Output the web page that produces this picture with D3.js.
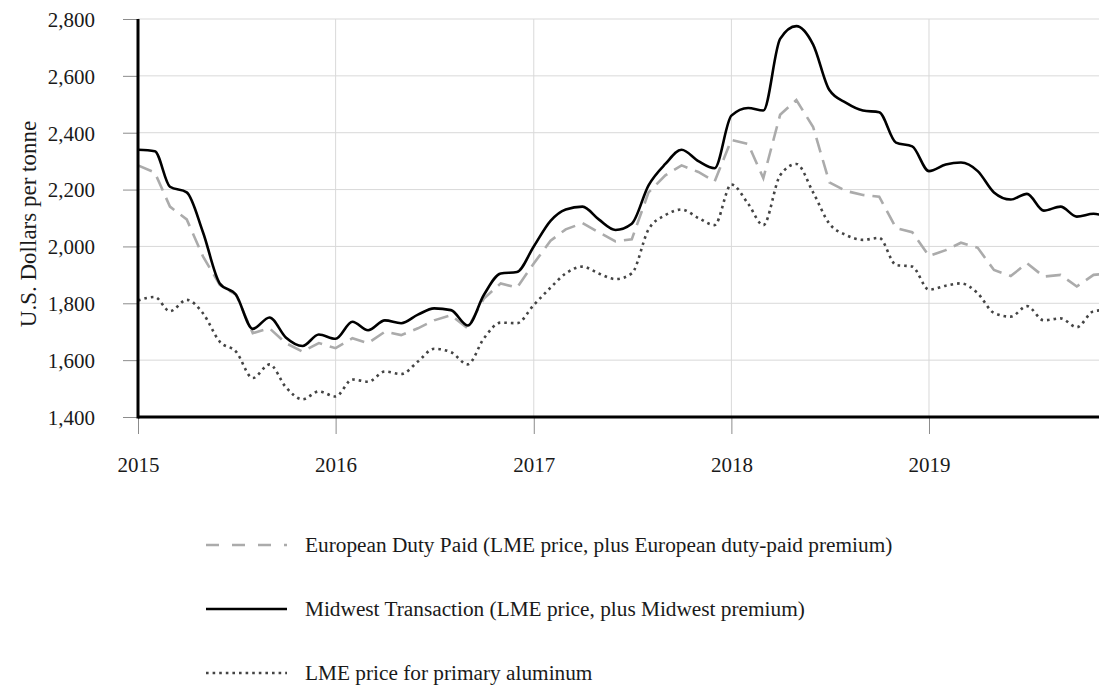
<!DOCTYPE html>
<html>
<head>
<meta charset="utf-8">
<script src="https://cdn.jsdelivr.net/npm/d3@7"></script>
<style>
  body { margin: 0; background: #fff; }
  svg { display: block; font-family: "Liberation Serif", "Times New Roman", serif; }
  .grid line { stroke: #d9d9d9; stroke-width: 1; }
  .tick line { stroke: #8c8c8c; }
  .tick text { fill: #1a1a1a; font-size: 21px; }
</style>
</head>
<body>
<svg id="chart" width="1099" height="685"></svg>
<script>
// monthly series, Jan 2015 onwards (US$ per tonne)
const startMonth = new Date(2015, 0, 1);

const europeanDutyPaid = [
  2285, 2260, 2140, 2095, 1965, 1865, 1830, 1695, 1712, 1660, 1630, 1660,
  1642, 1677, 1660, 1700, 1688, 1712, 1740, 1758, 1712, 1817, 1870, 1855,
  1940, 2020, 2060, 2082, 2050, 2018, 2025, 2190, 2250, 2285, 2262, 2228,
  2375, 2360, 2240, 2463, 2515, 2420, 2225, 2195, 2181, 2175, 2065, 2050,
  1966, 1987, 2013, 1995, 1917, 1896, 1941, 1894, 1900, 1859, 1900, 1905
];

const midwestTransaction = [
  2340, 2335, 2210, 2190, 2050, 1870, 1830, 1710, 1750, 1680, 1650, 1690,
  1675, 1735, 1705, 1740, 1730, 1760, 1782, 1776, 1722, 1830, 1905, 1910,
  2000, 2090, 2130, 2140, 2095, 2058, 2080, 2215, 2290, 2340, 2300, 2275,
  2460, 2487, 2478, 2730, 2775, 2710, 2550, 2505, 2478, 2472, 2365, 2352,
  2265, 2288, 2295, 2265, 2190, 2165, 2185, 2126, 2140, 2105, 2115, 2100
];

const lmePrice = [
  1810, 1822, 1772, 1812, 1765, 1665, 1630, 1537, 1585, 1505, 1462, 1490,
  1472, 1532, 1524, 1560, 1551, 1595, 1640, 1628, 1585, 1677, 1732, 1730,
  1794, 1855, 1905, 1929, 1905, 1885, 1905, 2060, 2110, 2130, 2100, 2075,
  2218, 2150, 2075, 2250, 2290, 2190, 2080, 2040, 2023, 2030, 1935, 1929,
  1848, 1862, 1870, 1835, 1766, 1753, 1790, 1740, 1747, 1716, 1772, 1778
];

const yTicks = [1400, 1600, 1800, 2000, 2200, 2400, 2600, 2800];
const xTickYears = [2015, 2016, 2017, 2018, 2019];

const seriesNames = [
  "European Duty Paid (LME price, plus European duty-paid premium)",
  "Midwest Transaction (LME price, plus Midwest premium)",
  "LME price for primary aluminum"
];

const width = 1099, height = 685;
const margin = { top: 19, right: 0, bottom: 268, left: 138 };
const plotBottom = height - margin.bottom;

const svg = d3.select("#chart");

const x = d3.scaleTime()
  .domain([startMonth, new Date(2019, 10, 11)])
  .range([margin.left, width - margin.right]);

const y = d3.scaleLinear()
  .domain([1400, 2800])
  .range([plotBottom, margin.top]);

const months = europeanDutyPaid.map((_, i) => d3.timeMonth.offset(startMonth, i));

// grid
svg.append("g").attr("class", "grid")
  .selectAll("line").data(yTicks.slice(1)).join("line")
  .attr("x1", margin.left).attr("x2", width)
  .attr("y1", d => y(d)).attr("y2", d => y(d));

svg.append("g").attr("class", "grid")
  .selectAll("line").data(xTickYears.slice(1)).join("line")
  .attr("x1", d => x(new Date(d, 0, 1))).attr("x2", d => x(new Date(d, 0, 1)))
  .attr("y1", margin.top).attr("y2", plotBottom);

// axes
const yAxis = svg.append("g")
  .attr("transform", `translate(${margin.left},0)`)
  .call(d3.axisLeft(y).tickValues(yTicks).tickSize(15).tickPadding(28)
    .tickFormat(d3.format(",")))
  .call(g => g.select(".domain").remove())
  .attr("font-family", null).attr("font-size", null);
yAxis.selectAll(".tick text").attr("dy", "0.35em");

const xAxis = svg.append("g")
  .attr("transform", `translate(0,${plotBottom})`)
  .call(d3.axisBottom(x)
    .tickValues(xTickYears.map(yr => new Date(yr, 0, 1)))
    .tickSize(17).tickPadding(23)
    .tickFormat(d3.timeFormat("%Y")))
  .call(g => g.select(".domain").remove())
  .attr("font-family", null).attr("font-size", null);

// y title
svg.append("text")
  .attr("transform", `translate(28,${(margin.top + plotBottom) / 2 + 6}) rotate(-90)`)
  .attr("text-anchor", "middle")
  .attr("dominant-baseline", "central")
  .attr("font-size", 23)
  .attr("fill", "#1a1a1a")
  .text("U.S. Dollars per tonne");

// lines
svg.append("clipPath").attr("id", "plot-clip")
  .append("rect")
  .attr("x", margin.left).attr("y", 0)
  .attr("width", width - margin.left).attr("height", plotBottom);

const styles = [
  { data: europeanDutyPaid, color: "#ababab", dash: "15,8", width: 2.6, curve: d3.curveLinear, legendDash: "13,13" },
  { data: midwestTransaction, color: "#000000", dash: null, width: 2.6, curve: d3.curveMonotoneX, legendDash: null },
  { data: lmePrice, color: "#444444", dash: "2.6,4", width: 2.6, curve: d3.curveMonotoneX, legendDash: "2.6,4" }
];

const plot = svg.append("g").attr("clip-path", "url(#plot-clip)");

styles.forEach(s => {
  const line = d3.line()
    .x((d, i) => x(months[i]))
    .y(d => y(d))
    .curve(s.curve);
  plot.append("path")
    .datum(s.data)
    .attr("fill", "none")
    .attr("stroke", s.color)
    .attr("stroke-width", s.width)
    .attr("stroke-dasharray", s.dash)
    .attr("d", line);
});

// axis lines drawn on top
svg.append("line")
  .attr("x1", margin.left).attr("x2", margin.left)
  .attr("y1", margin.top).attr("y2", plotBottom + 1.5)
  .attr("stroke", "#000").attr("stroke-width", 3);
svg.append("line")
  .attr("x1", margin.left).attr("x2", width)
  .attr("y1", plotBottom).attr("y2", plotBottom)
  .attr("stroke", "#000").attr("stroke-width", 3);

// legend
const legendY = [545, 609, 673];
const legend = svg.append("g");
styles.forEach((s, i) => {
  legend.append("line")
    .attr("x1", 206).attr("x2", 287)
    .attr("y1", legendY[i]).attr("y2", legendY[i])
    .attr("stroke", s.color)
    .attr("stroke-width", s.width)
    .attr("stroke-dasharray", s.legendDash);
  legend.append("text")
    .attr("x", 305).attr("y", legendY[i])
    .attr("dy", "0.35em")
    .attr("font-size", 21.3)
    .attr("fill", "#1a1a1a")
    .text(seriesNames[i]);
});
</script>
</body>
</html>
